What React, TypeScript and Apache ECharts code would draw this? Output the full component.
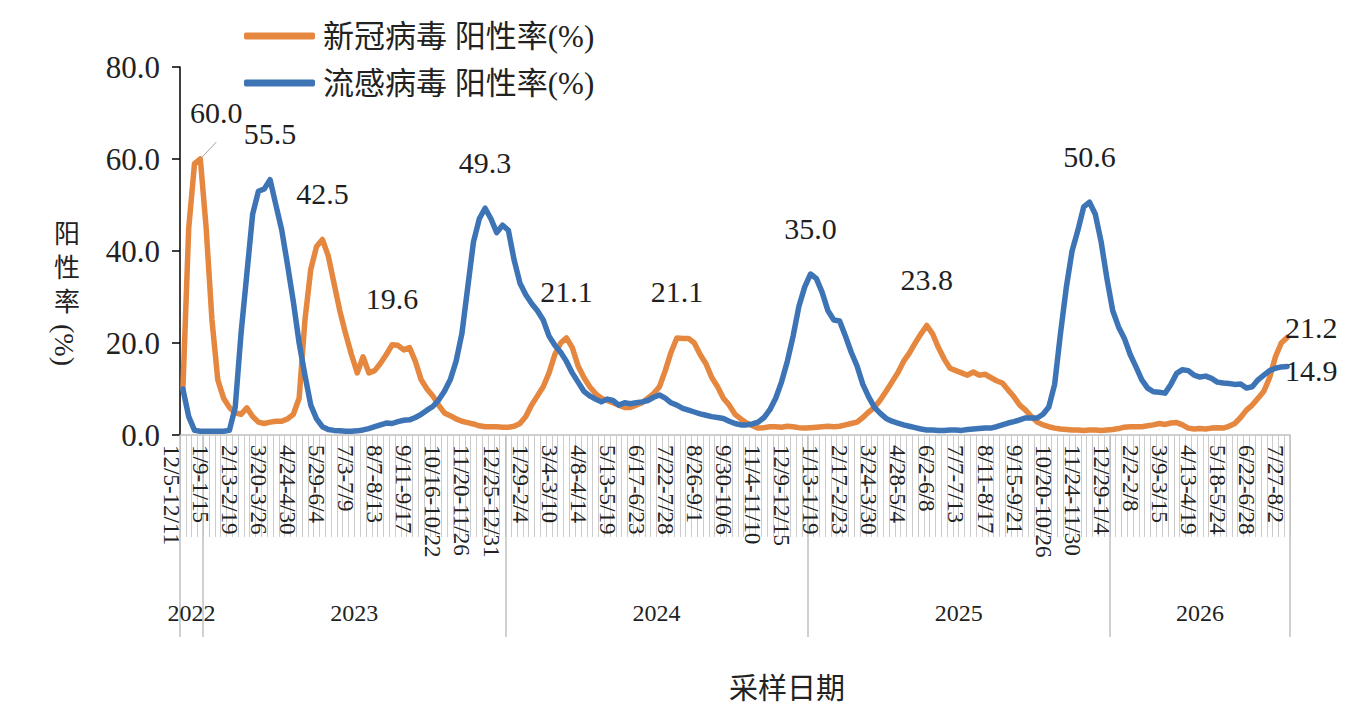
import React, { useEffect, useRef } from "react";
import * as echarts from "echarts";

// ---- data ----
const START_DATE = Date.UTC(2022, 11, 5); // first sampling week: 12/5-12/11 2022

const years = ["2022", "2023", "2024", "2025", "2026"];
const weeksPerYear = [4, 52, 52, 52, 31];

// 新冠病毒 阳性率(%)
const covid = [
  10, 45, 59, 60.0, 45, 25, 12, 8, 6, 4.8,
  4.5, 5.9, 4, 2.8, 2.5, 2.8, 3, 3, 3.5, 4.5,
  8, 25, 36, 41, 42.5, 39, 33, 27, 22, 17.5,
  13.5, 17, 13.5, 14, 15.6, 17.5, 19.6, 19.5, 18.5, 19,
  16, 12, 10, 8.5, 6.5, 4.8, 4.2, 3.5, 3, 2.7,
  2.4, 2, 1.8, 1.8, 1.8, 1.7, 1.7, 1.9, 2.5, 4,
  6.5, 8.5, 10.5, 13.5, 17.5, 20, 21.1, 19, 15, 12.5,
  10.5, 9, 8, 7.5, 7, 6.5, 6, 6, 6.5, 7,
  8, 9, 10.5, 14, 18, 21.1, 21, 21, 20, 17.5,
  15.5, 12.5, 10.5, 8, 6.5, 4.5, 3.5, 2.6, 2, 1.5,
  1.6, 1.8, 1.8, 1.7, 1.9, 1.8, 1.6, 1.5, 1.6, 1.7,
  1.8, 1.9, 1.8, 1.9, 2.2, 2.5, 2.8, 3.8, 5, 6,
  7.6, 9.5, 11.5, 13.5, 16, 17.8, 20, 22, 23.8, 22,
  19, 16.5, 14.5, 14, 13.5, 13, 13.7, 13, 13.2, 12.5,
  11.8, 11.3, 9.8, 8.3, 6.5, 5.4, 4, 2.8, 2.2, 1.8,
  1.5, 1.3, 1.2, 1.1, 1.1, 1.0, 1.1, 1.1, 1.0, 1.1,
  1.2, 1.4, 1.7, 1.8, 1.8, 1.8, 2, 2.2, 2.5, 2.3,
  2.6, 2.7, 2.2, 1.5, 1.3, 1.4, 1.3, 1.5, 1.6, 1.5,
  1.9, 2.5, 3.8, 5.4, 6.5, 8, 9.5, 12.5, 17, 20,
  21.2,
];

// 流感病毒 阳性率(%)
const flu = [
  10, 4, 1, 0.8, 0.8, 0.8, 0.8, 0.8, 1, 6,
  22, 35, 48, 53, 53.5, 55.5, 50, 44.6, 37, 29,
  20, 13, 6.5, 3.5, 1.8, 1.2, 1, 0.9, 0.8, 0.8,
  0.9, 1.1, 1.4, 1.8, 2.2, 2.6, 2.5, 2.9, 3.2, 3.3,
  3.8, 4.5, 5.4, 6.2, 7.6, 9.5, 12, 16, 22, 32,
  42, 47, 49.3, 47, 44, 45.6, 44.5, 38, 33, 30.5,
  28.6, 27, 25, 21.5, 19.5, 18, 16, 13.5, 11.5, 9.5,
  8.5, 7.8, 7.2, 7.8, 7.5, 6.5, 7, 6.8, 7, 7.2,
  7.5, 8.2, 8.7, 8, 7, 6.5, 5.8, 5.4, 5, 4.6,
  4.3, 4, 3.8, 3.6, 3, 2.5, 2.2, 2.2, 2.4, 2.8,
  3.8, 5.5, 8, 11.5, 16, 21.5, 28, 32.2, 35.0, 34,
  31, 27, 25, 24.8, 21.5, 18, 15, 11, 8.3, 6,
  4.7, 3.6, 3, 2.6, 2.2, 1.9, 1.6, 1.3, 1.1, 1.1,
  1.0, 1.0, 1.1, 1.1, 1.0, 1.2, 1.3, 1.4, 1.5, 1.5,
  1.8, 2.2, 2.6, 2.9, 3.3, 3.7, 3.7, 3.7, 4.5, 6.1,
  11, 22, 32, 40, 44.5, 49.6, 50.6, 48, 42, 34,
  27, 23.5, 21, 17.5, 14.8, 12, 10.2, 9.4, 9.3, 9.1,
  11, 13.4, 14.2, 14, 13, 12.6, 12.8, 12.3, 11.5, 11.3,
  11.2, 11, 11.1, 10.2, 10.5, 12, 13, 14, 14.5, 14.8,
  14.9,
];

const covidPeaks = [3, 24, 36, 66, 85, 128, 190];
const fluPeaks = [15, 52, 108, 156, 190];

const yTicks = [0, 20, 40, 60, 80];

const seriesNames = ["新冠病毒 阳性率(%)", "流感病毒 阳性率(%)"];
const seriesColors = ["#E5873F", "#3D74B6"];
const yNameChars = ["阳", "性", "率"];

// ---- derived ----
const DAY = 86400000;
const weekLabels = covid.map((_, i) => {
  const a = new Date(START_DATE + i * 7 * DAY);
  const b = new Date(START_DATE + (i * 7 + 6) * DAY);
  return `${a.getUTCMonth() + 1}/${a.getUTCDate()}-${b.getUTCMonth() + 1}/${b.getUTCDate()}`;
});

const yearBounds: number[] = [0];
weeksPerYear.forEach((w) => yearBounds.push(yearBounds[yearBounds.length - 1] + w));
const yearMids = years.map((_, i) => (yearBounds[i] + yearBounds[i + 1]) / 2);

const SERIF = "'Liberation Serif', 'Times New Roman', serif";
const MIXED = "'Liberation Serif', 'Noto Sans CJK SC', serif";
const CJK = "'Noto Sans CJK SC', sans-serif";

function buildData(values: number[], peaks: number[], which: number) {
  const last = values.length - 1;
  return values.map((v, i) => {
    if (!peaks.includes(i)) return v;
    const label: any = {
      show: true,
      position: "top",
      distance: 31,
      fontFamily: SERIF,
      fontSize: 30,
      color: "#1f1f1f",
      formatter: (p: any) => Number(p.value).toFixed(1),
    };
    const item: any = { value: v, label };
    if (i === last) {
      label.position = "right";
      label.distance = 2;
      label.offset = which === 0 ? [-4, -10] : [-4, 4];
    }
    if (which === 0 && i === 3) {
      label.offset = [16, -1];
      item.labelLine = { show: true, lineStyle: { color: "#a6a6a6", width: 1 } };
    }
    return item;
  });
}

export default function App() {
  const ref = useRef<HTMLDivElement>(null);

  useEffect(() => {
    if (!ref.current) return;
    const chart = echarts.init(ref.current, null, { renderer: "svg" });

    const makeSeries = (values: number[], peaks: number[], idx: number) => ({
      name: seriesNames[idx],
      type: "line",
      xAxisIndex: 0,
      yAxisIndex: 0,
      data: buildData(values, peaks, idx),
      symbol: "circle",
      symbolSize: 0,
      showSymbol: true,
      showAllSymbol: true,
      smooth: false,
      color: seriesColors[idx],
      lineStyle: { width: 5.5, color: seriesColors[idx], cap: "round", join: "round" },
      emphasis: { disabled: true },
    });

    chart.setOption({
      animation: false,
      backgroundColor: "#ffffff",
      grid: { left: 172, right: 72, top: 59, bottom: 277, containLabel: false },
      legend: {
        orient: "vertical",
        left: 231,
        top: 7,
        itemWidth: 71,
        itemHeight: 7,
        itemGap: 15,
        icon: "roundRect",
        data: seriesNames,
        textStyle: {
          fontFamily: MIXED,
          fontSize: 31,
          color: "#222",
          lineHeight: 32,
          padding: [0, 0, 0, 3],
        },
      },
      xAxis: [
        {
          type: "category",
          data: weekLabels,
          boundaryGap: true,
          position: "bottom",
          axisLine: { show: true, lineStyle: { color: "#bfbfbf", width: 1.5 } },
          axisTick: { show: true, interval: 0, length: 102, lineStyle: { color: "#cccccc", width: 1 } },
          axisLabel: {
            interval: 4,
            rotate: -90,
            margin: 10,
            fontFamily: SERIF,
            fontSize: 23,
            color: "#222",
            verticalAlign: "top",
          },
          splitLine: { show: false },
        },
        {
          type: "value",
          min: 0,
          max: yearBounds[yearBounds.length - 1],
          position: "bottom",
          offset: 0,
          axisLine: { show: false },
          axisTick: {
            show: true,
            length: 202,
            customValues: yearBounds,
            lineStyle: { color: "#c0c0c0", width: 1.5 },
          },
          axisLabel: {
            show: true,
            customValues: yearMids,
            margin: 166,
            fontFamily: SERIF,
            fontSize: 24,
            color: "#222",
            formatter: (v: number) => {
              const k = yearMids.findIndex((m) => Math.abs(m - v) < 0.01);
              return k >= 0 ? years[k] : "";
            },
          },
          splitLine: { show: false },
          name: "采样日期",
          nameLocation: "middle",
          nameGap: 236,
          nameTextStyle: {
            fontFamily: CJK,
            fontSize: 29,
            color: "#222",
            padding: [0, 0, 0, 104],
          },
        },
      ],
      yAxis: {
        type: "value",
        min: yTicks[0],
        max: yTicks[yTicks.length - 1],
        interval: yTicks[1] - yTicks[0],
        axisLine: { show: true, lineStyle: { color: "#000", width: 1.5 } },
        axisTick: { show: true, inside: false, length: 8, lineStyle: { color: "#000", width: 1.5 } },
        axisLabel: {
          margin: 20,
          fontFamily: SERIF,
          fontSize: 31,
          color: "#222",
          formatter: (v: number) => v.toFixed(1),
        },
        splitLine: { show: false },
      },
      graphic: [
        ...yNameChars.map((ch, k) => ({
          type: "text",
          x: 59,
          y: 223 + k * 34,
          style: {
            text: ch,
            fontFamily: CJK,
            fontSize: 26,
            fill: "#222",
            align: "center",
            verticalAlign: "middle",
          },
        })),
        {
          type: "text",
          x: 56,
          y: 337,
          rotation: -Math.PI / 2,
          style: {
            text: "(%)",
            fontFamily: SERIF,
            fontSize: 28,
            fill: "#222",
            align: "center",
            verticalAlign: "middle",
          },
        },
      ],
      series: [makeSeries(covid, covidPeaks, 0), makeSeries(flu, fluPeaks, 1)],
    });

    return () => chart.dispose();
  }, []);

  return <div ref={ref} style={{ width: 1354, height: 704 }} />;
}
